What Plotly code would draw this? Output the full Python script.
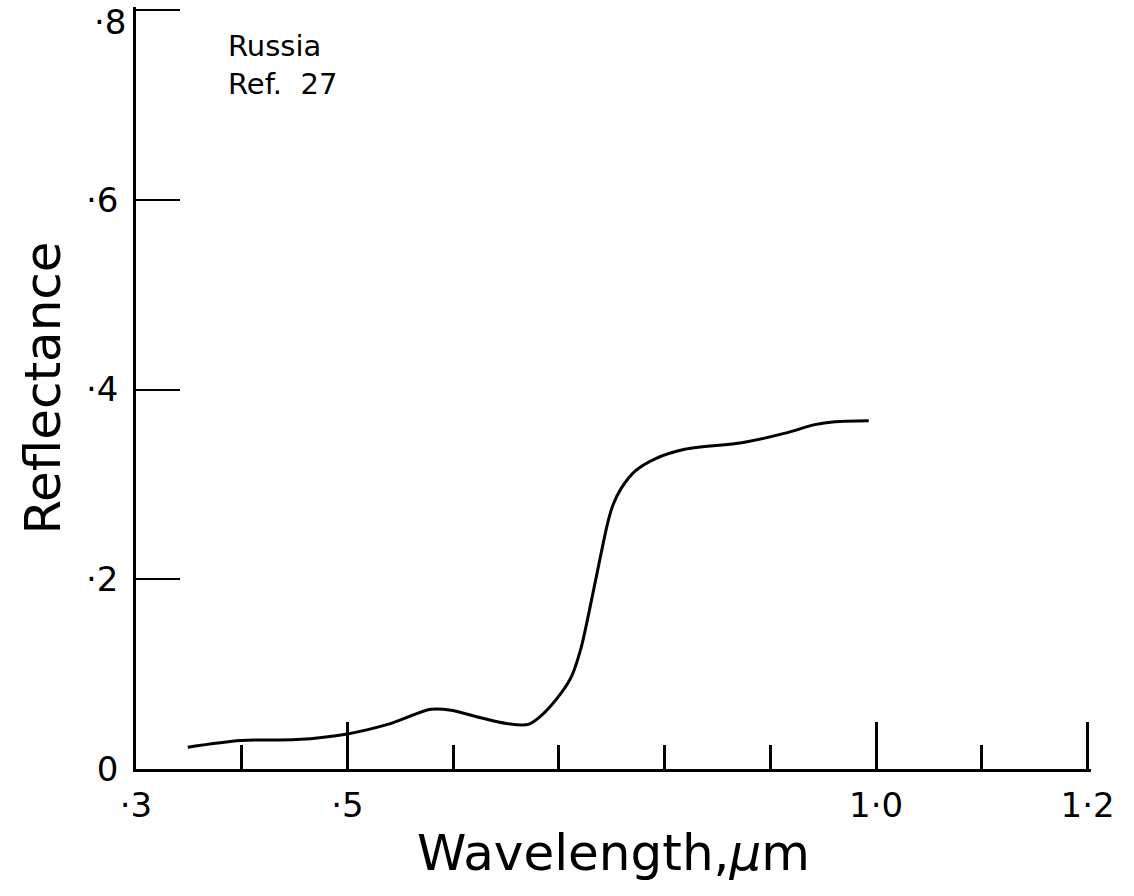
import plotly.graph_objects as go

# Data
wavelength = [0.349, 0.399, 0.452, 0.500, 0.538, 0.579, 0.598, 0.626, 0.650, 0.671,
              0.683, 0.702, 0.712, 0.721, 0.731, 0.740, 0.746, 0.751, 0.759, 0.772,
              0.791, 0.819, 0.873, 0.914, 0.942, 0.961, 0.993]
reflectance = [0.023, 0.030, 0.031, 0.037, 0.047, 0.063, 0.062, 0.054, 0.048, 0.047,
               0.056, 0.080, 0.098, 0.128, 0.179, 0.228, 0.259, 0.278, 0.296, 0.314,
               0.327, 0.337, 0.344, 0.354, 0.363, 0.366, 0.367]

x_major_vals = [0.3, 0.5, 1.0, 1.2]
x_major_text = ["·3", "·5", "1·0", "1·2"]
y_tick_vals = [0, 0.2, 0.4, 0.6, 0.8]
y_tick_text = ["0", "·2", "·4", "·6", "·8"]

FONT = "DejaVu Sans"

fig = go.Figure()
fig.add_trace(go.Scatter(
    x=wavelength, y=reflectance, mode="lines",
    line=dict(color="black", width=3, shape="spline", smoothing=0.8),
    showlegend=False, hoverinfo="skip",
))

fig.add_annotation(
    x=0, y=1, xref="paper", yref="paper", xanchor="left", yanchor="top",
    xshift=90, yshift=-20,
    text="Russia<br>Ref.  27", showarrow=False, align="left",
    font=dict(family=FONT, size=29, color="black"),
)

# top y tick label sits just below the top of the page, as in the original
fig.add_annotation(
    x=0, y=y_tick_vals[-1], xref="paper", yref="y", xanchor="right", yanchor="middle",
    xshift=-8, yshift=-12,
    text=y_tick_text[-1], showarrow=False,
    font=dict(family=FONT, size=34, color="black"),
)

fig.update_layout(
    width=1134, height=896,
    margin=dict(l=136, r=43, t=7, b=127),
    paper_bgcolor="white", plot_bgcolor="white",
    font=dict(family=FONT, color="black"),
)

fig.update_xaxes(
    range=[0.3, 1.2032], showgrid=False, zeroline=False,
    showline=True, linecolor="black", linewidth=2.5,
    tickmode="array", tickvals=x_major_vals, ticktext=x_major_text,
    ticks="inside", ticklen=47, tickwidth=2.5, tickcolor="black",
    tickfont=dict(family=FONT, size=34, color="black"),
    ticklabelstandoff=4,
    minor=dict(dtick=0.1, tick0=0.3, ticks="inside", ticklen=24, tickwidth=2.5,
               tickcolor="black", showgrid=False),
    title=dict(text="Wavelength,<i>μ</i>m", font=dict(family=FONT, size=50, color="black"),
               standoff=12),
)

fig.update_yaxes(
    range=[0, 0.8032], showgrid=False, zeroline=False,
    showline=True, linecolor="black", linewidth=2.5,
    tickmode="array", tickvals=y_tick_vals, ticktext=y_tick_text[:-1] + [""],
    ticks="inside", ticklen=44, tickwidth=2.2, tickcolor="black",
    tickfont=dict(family=FONT, size=34, color="black"),
    ticklabelstandoff=8,
    title=dict(text="Reflectance", font=dict(family=FONT, size=50, color="black"),
               standoff=10),
)

fig.write_html("out.html")
